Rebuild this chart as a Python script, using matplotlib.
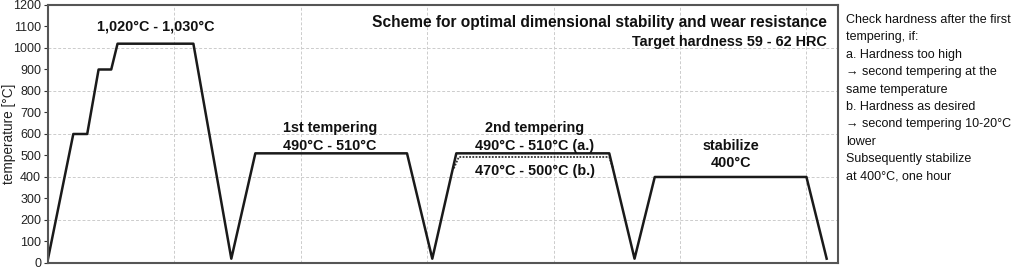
import matplotlib
matplotlib.use("Agg")
import matplotlib.pyplot as plt

plt.rcParams['font.family'] = ['Liberation Sans', 'DejaVu Sans']

# time axis in arbitrary units (one grid cell = 1 unit)
main_time = [0.0, 0.2, 0.31, 0.40, 0.50, 0.55, 1.15, 1.45, 1.64, 2.84, 3.04, 3.23, 4.44, 4.64,
             4.80, 6.00, 6.16]
main_temp = [20, 600, 600, 900, 900, 1020, 1020, 20, 510, 510, 20, 510, 510, 20,
             400, 400, 20]

alt_time = [3.21, 3.25, 4.44, 4.47]
alt_temp = [440, 493, 493, 440]

yticks = list(range(0, 1201, 100))
ygrid = [200, 400, 600, 800, 1000]
xgrid = [1, 2, 3, 4, 5, 6]

notes = ["Check hardness after the first",
         "tempering, if:",
         "a. Hardness too high",
         "\u2192 second tempering at the",
         "same temperature",
         "b. Hardness as desired",
         "\u2192 second tempering 10-20\u00b0C",
         "lower",
         "Subsequently stabilize",
         "at 400\u00b0C, one hour"]

fig = plt.figure(figsize=(10.24, 2.7), dpi=100)
ax = fig.add_axes([0.0469, 0.026, 0.7715, 0.9555])

for g in ygrid:
    ax.axhline(g, color='#cccccc', ls=(0, (3, 2)), lw=0.7, zorder=0)
for g in xgrid:
    ax.axvline(g, color='#cccccc', ls=(0, (3, 2)), lw=0.7, zorder=0)

ax.plot(alt_time, alt_temp, color='#333333', lw=1.3, ls=(0, (1, 0.8)))
ax.plot(main_time, main_temp, color='#1a1a1a', lw=1.8)

ax.set_xlim(0, 6.25)
ax.set_ylim(0, 1200)
ax.set_yticks(yticks)
ax.set_xticks([])
ax.tick_params(axis='y', direction='out', length=3, width=0.8, pad=2, colors='#333333')
for lab in ax.get_yticklabels():
    lab.set_fontsize(9)
    lab.set_color('#222222')
for s in ax.spines.values():
    s.set_color('#555555')
    s.set_linewidth(1.5)
ax.set_ylabel('temperature [\u00b0C]', fontsize=9.8, color='#222222')
ax.yaxis.label.set_va('center')
ax.yaxis.set_label_coords(-0.05, 0.5)

bold = dict(fontsize=10.4, fontweight='bold', ha='center', va='center', color='#111111')
ax.text(0.85, 1100, '1,020\u00b0C - 1,030\u00b0C', **bold)
ax.text(2.23, 630, '1st tempering', **bold)
ax.text(2.23, 545, '490\u00b0C - 510\u00b0C', **bold)
ax.text(3.85, 630, '2nd tempering', **bold)
ax.text(3.85, 545, '490\u00b0C - 510\u00b0C (a.)', **bold)
ax.text(3.85, 430, '470\u00b0C - 500\u00b0C (b.)', **bold)
ax.text(5.40, 545, 'stabilize', **bold)
ax.text(5.40, 465, '400\u00b0C', **bold)
ax.text(6.16, 1120, 'Scheme for optimal dimensional stability and wear resistance',
        fontsize=11.2, fontweight='bold', ha='right', va='center', color='#111111')
ax.text(6.16, 1030, 'Target hardness 59 - 62 HRC',
        fontsize=10.4, fontweight='bold', ha='right', va='center', color='#111111')

for i, line in enumerate(notes):
    fig.text(846 / 1024, 1 - (20 + i * 17.4) / 270, line, fontsize=9,
             ha='left', va='center', color='#111111')

fig.savefig('out.png', dpi=100)
